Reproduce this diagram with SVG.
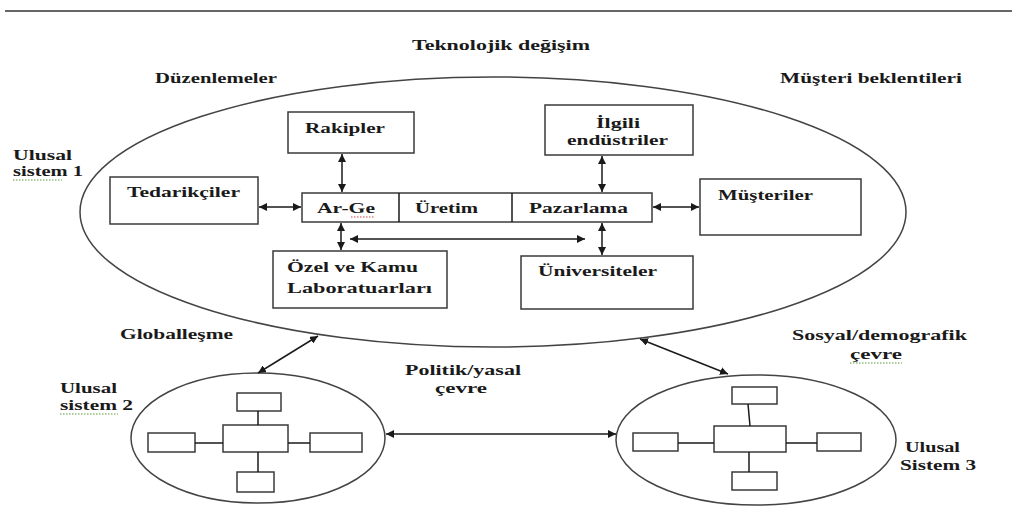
<svg xmlns="http://www.w3.org/2000/svg" width="1036" height="516" viewBox="0 0 1036 516">
<defs>
<marker id="ah" viewBox="0 0 10 10" refX="10" refY="5" markerWidth="8" markerHeight="8" markerUnits="userSpaceOnUse" orient="auto-start-reverse">
<path d="M0,0 L10,5 L0,10 Z" fill="#1a1a1a"/>
</marker>
</defs>
<style>
.t{font-family:"Liberation Serif","Times New Roman",serif;font-weight:bold;font-size:15px;fill:#1a1a1a}
.b{fill:#fff;stroke:#3a3a3a;stroke-width:1.5}
.e{fill:none;stroke:#444;stroke-width:1.5}
.c{fill:none;stroke:#1a1a1a;stroke-width:1.5}
.a{fill:none;stroke:#1a1a1a;stroke-width:1.5;marker-start:url(#ah);marker-end:url(#ah)}
.sg{fill:none;stroke:#5a9a3a;stroke-width:1.2;stroke-dasharray:1.5 1.5}
.sr{fill:none;stroke:#d04040;stroke-width:1.2;stroke-dasharray:1.5 1.5}
</style>
<rect width="1036" height="516" fill="#fff"/>
<line x1="5" y1="11" x2="1012" y2="11" stroke="#333" stroke-width="1.5"/>

<g id="labels">
<text class="t" x="412" y="50" textLength="178" lengthAdjust="spacingAndGlyphs">Teknolojik değişim</text>
<text class="t" x="155" y="83" textLength="122" lengthAdjust="spacingAndGlyphs">Düzenlemeler</text>
<text class="t" x="780" y="83" textLength="182" lengthAdjust="spacingAndGlyphs">Müşteri beklentileri</text>
<text class="t" x="13" y="160" textLength="59" lengthAdjust="spacingAndGlyphs">Ulusal</text>
<text class="t" x="13" y="176" textLength="70" lengthAdjust="spacingAndGlyphs">sistem 1</text>
<text class="t" x="120" y="339" textLength="113" lengthAdjust="spacingAndGlyphs">Globalleşme</text>
<text class="t" x="405" y="375" textLength="116" lengthAdjust="spacingAndGlyphs">Politik/yasal</text>
<text class="t" x="435" y="393" textLength="52" lengthAdjust="spacingAndGlyphs">çevre</text>
<text class="t" x="792" y="340" textLength="175" lengthAdjust="spacingAndGlyphs">Sosyal/demografik</text>
<text class="t" x="850" y="359" textLength="52" lengthAdjust="spacingAndGlyphs">çevre</text>
<text class="t" x="60" y="393" textLength="57" lengthAdjust="spacingAndGlyphs">Ulusal</text>
<text class="t" x="60" y="410" textLength="73" lengthAdjust="spacingAndGlyphs">sistem 2</text>
<text class="t" x="905" y="452" textLength="55" lengthAdjust="spacingAndGlyphs">Ulusal</text>
<text class="t" x="900" y="470" textLength="76" lengthAdjust="spacingAndGlyphs">Sistem 3</text>
<path class="sg" d="M13,180 L62,180"/>
<path class="sg" d="M60,414 L118,414"/>
<path class="sg" d="M850,363 L902,363"/>
</g>

<g id="sistem1">
<ellipse class="e" cx="493" cy="212" rx="413" ry="135"/>
</g>

<g id="rakipler">
<rect class="b" x="288" y="112" width="126" height="41"/>
<text class="t" x="305" y="133" textLength="80" lengthAdjust="spacingAndGlyphs">Rakipler</text>
</g>

<g id="ilgili">
<rect class="b" x="545" y="105" width="148" height="50"/>
<text class="t" x="596" y="128" textLength="44" lengthAdjust="spacingAndGlyphs">İlgili</text>
<text class="t" x="567" y="145" textLength="101" lengthAdjust="spacingAndGlyphs">endüstriler</text>
</g>

<g id="tedarikciler">
<rect class="b" x="110" y="177" width="148" height="47"/>
<text class="t" x="127" y="197" textLength="113" lengthAdjust="spacingAndGlyphs">Tedarikçiler</text>
</g>

<g id="musteriler">
<rect class="b" x="700" y="179" width="161" height="56"/>
<text class="t" x="718" y="200" textLength="95" lengthAdjust="spacingAndGlyphs">Müşteriler</text>
</g>

<g id="arge-uretim-pazarlama">
<rect class="b" x="302" y="193" width="350" height="29"/>
<line class="c" x1="399" y1="193" x2="399" y2="222"/>
<line class="c" x1="512" y1="193" x2="512" y2="222"/>
<text class="t" x="317" y="213" textLength="58" lengthAdjust="spacingAndGlyphs">Ar-Ge</text>
<text class="t" x="415" y="213" textLength="63" lengthAdjust="spacingAndGlyphs">Üretim</text>
<text class="t" x="529" y="213" textLength="99" lengthAdjust="spacingAndGlyphs">Pazarlama</text>
<path class="sr" d="M351,217 L375,217"/>
</g>

<g id="ozel-kamu">
<rect class="b" x="273" y="251" width="174" height="57"/>
<text class="t" x="287" y="272" textLength="131" lengthAdjust="spacingAndGlyphs">Özel ve Kamu</text>
<text class="t" x="287" y="293" textLength="145" lengthAdjust="spacingAndGlyphs">Laboratuarları</text>
</g>

<g id="universiteler">
<rect class="b" x="521" y="256" width="172" height="53"/>
<text class="t" x="538" y="276" textLength="119" lengthAdjust="spacingAndGlyphs">Üniversiteler</text>
</g>

<g id="sistem2">
<ellipse class="e" cx="258" cy="438" rx="127" ry="65"/>
<rect class="b" x="237" y="393" width="44" height="18"/>
<rect class="b" x="223" y="425" width="65" height="27"/>
<rect class="b" x="148" y="433" width="47" height="19"/>
<rect class="b" x="310" y="433" width="52" height="19"/>
<rect class="b" x="237" y="472" width="37" height="20"/>
<line class="c" x1="258" y1="411" x2="258" y2="425"/>
<line class="c" x1="258" y1="452" x2="258" y2="472"/>
<line class="c" x1="195" y1="443" x2="223" y2="443"/>
<line class="c" x1="288" y1="443" x2="310" y2="443"/>
</g>

<g id="sistem3">
<ellipse class="e" cx="756" cy="440" rx="140" ry="65"/>
<rect class="b" x="732" y="387" width="45" height="17"/>
<rect class="b" x="714" y="426" width="72" height="26"/>
<rect class="b" x="633" y="433" width="45" height="18"/>
<rect class="b" x="817" y="433" width="44" height="18"/>
<rect class="b" x="732" y="472" width="45" height="18"/>
<line class="c" x1="748" y1="404" x2="750" y2="426"/>
<line class="c" x1="749" y1="452" x2="749" y2="472"/>
<line class="c" x1="678" y1="443" x2="714" y2="443"/>
<line class="c" x1="786" y1="443" x2="817" y2="443"/>
</g>

<g id="connectors">
<line class="a" x1="342" y1="154" x2="342" y2="192"/>
<line class="a" x1="602" y1="156" x2="602" y2="192"/>
<line class="a" x1="259" y1="207" x2="301" y2="207"/>
<line class="a" x1="653" y1="207" x2="699" y2="207"/>
<line class="a" x1="341" y1="223" x2="341" y2="250"/>
<line class="a" x1="602" y1="223" x2="602" y2="255"/>
<line class="a" x1="350" y1="239" x2="585" y2="239"/>
<line class="a" x1="318" y1="336" x2="258" y2="373"/>
<line class="a" x1="640" y1="339" x2="728" y2="374"/>
<line class="a" x1="386" y1="434" x2="616" y2="434"/>
</g>
</svg>
